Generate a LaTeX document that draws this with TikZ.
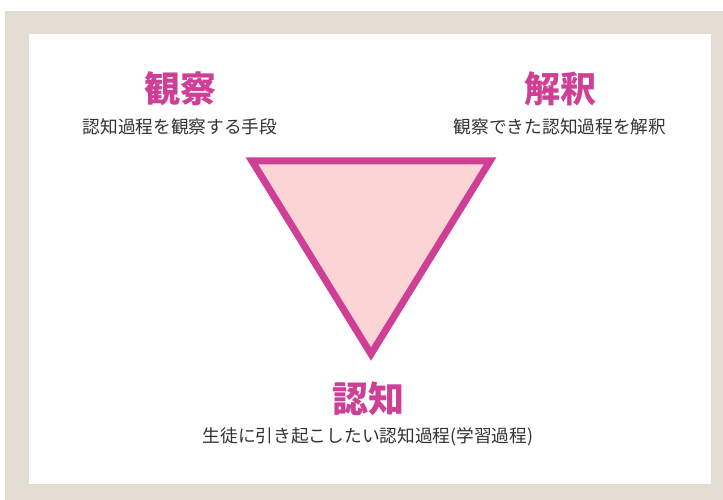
\documentclass[tikz,border=0pt]{standalone}
\usepackage{fontspec}
\newfontfamily\cjk{Noto Sans CJK JP}
\definecolor{framebeige}{HTML}{E2DCD2}
\definecolor{accent}{HTML}{CF3F96}
\definecolor{trifill}{HTML}{FBD5D5}
\definecolor{subtext}{HTML}{333333}
\begin{document}
\begin{tikzpicture}[x=1pt,y=-1pt,
  title/.style={font=\cjk\bfseries\fontsize{36}{40}\selectfont, text=accent, inner sep=0pt, anchor=center},
  sub/.style={font=\cjk\fontsize{17.7}{21}\selectfont, text=subtext, inner sep=0pt, anchor=center}]
\useasboundingbox (0,0) rectangle (723,500);
\fill[framebeige] (5,11) rectangle (723,500);
\fill[white] (29,34) rectangle (711,484);
\coordinate (tl) at (252,161);
\coordinate (tr) at (490,161);
\coordinate (bt) at (371,354);
\draw[accent, fill=trifill, line width=7pt, line join=miter] (tl) -- (tr) -- (bt) -- cycle;
\node[title] (t1) at (180,89) {観察};
\node[sub] (s1) at (180,127) {認知過程を観察する手段};
\node[title] (t2) at (560,89) {解釈};
\node[sub] (s2) at (560,127) {観察できた認知過程を解釈};
\node[title] (t3) at (368,399) {認知};
\node[sub] (s3) at (368,437) {生徒に引き起こしたい認知過程(学習過程)};
\end{tikzpicture}
\end{document}
